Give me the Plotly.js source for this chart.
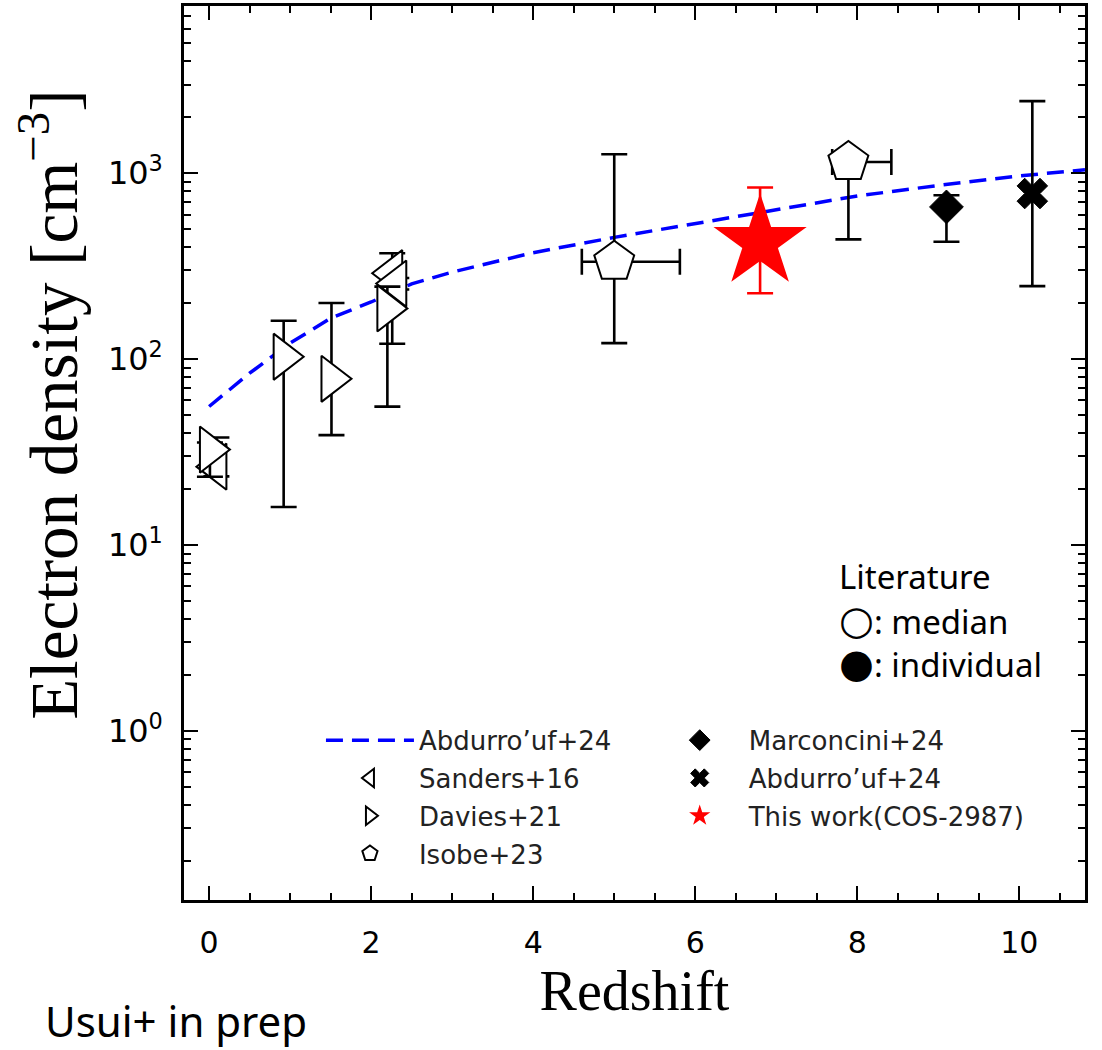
<!DOCTYPE html>
<html><head><meta charset="utf-8">
<script src="https://cdn.plot.ly/plotly-3.0.1.min.js"></script>
<style>body{margin:0;background:#fff}</style>
</head><body>
<div id="chart" style="width:1102px;height:1050px"></div>
<script>
// Abdurro'uf+24 relation
const modelZ  = [0, 0.5, 1, 1.5, 2, 2.5, 3, 4, 5, 6, 7, 8, 9, 10, 10.81];
const modelNe = [55.6, 84, 122, 166, 203, 254, 294, 374, 452, 537, 640, 755, 860, 968, 1044];

// Sanders+16 (median)
const sandersZ = [0.09, 2.26, 2.31];
const sandersNe = [26.4, 290, 255];
const sandersErrP = [11.5, 81, 18];
const sandersErrM = [3, 169, 18];

// Davies+21 (median)
const daviesZ = [0.01, 0.92, 1.51, 2.20];
const daviesNe = [32.6, 103, 78.4, 187.5];
const daviesErrP = [3, 58, 122, 58];
const daviesErrM = [9.3, 87, 39.4, 132];

// Isobe+23 (median)
const isobeZ = [5.0, 7.89];
const isobeNe = [334, 1150];
const isobeErrP = [931, 100];
const isobeErrM = [212, 709];
const isobeZErrP = [0.81, 0.53];
const isobeZErrM = [0.40, 0.20];

// Marconcini+24 (individual)
const marcZ = [9.10];
const marcNe = [659];
const marcErrP = [103];
const marcErrM = [231];

// Abdurro'uf+24 (individual)
const abdZ = [10.16];
const abdNe = [778];
const abdErrP = [1666];
const abdErrM = [531];

// This work (COS-2987)
const thisZ = [6.80];
const thisNe = [426];
const thisErrP = [412];
const thisErrM = [200];

const yTickVals = [1, 10, 100, 1000];
const yTickText = ['10<sup>0</sup>', '10<sup>1</sup>', '10<sup>2</sup>', '10<sup>3</sup>'];

const errStyle = (p, m, color) => ({type: 'data', symmetric: false, array: p, arrayminus: m,
  color: color || 'black', thickness: 2.6, width: 13});

const traces = [
  {x: modelZ, y: modelNe, mode: 'lines', name: 'Abdurro\u2019uf+24',
   line: {color: '#0000ff', width: 3.5, dash: '17px,9px'}, legend: 'legend', legendgroup: 'a'},
  {x: sandersZ, y: sandersNe, mode: 'markers', name: 'Sanders+16',
   marker: {symbol: 'triangle-left', size: 40, color: 'white', line: {color: 'black', width: 2}},
   error_y: errStyle(sandersErrP, sandersErrM), legend: 'legend', legendgroup: 'b'},
  {x: daviesZ, y: daviesNe, mode: 'markers', name: 'Davies+21',
   marker: {symbol: 'triangle-right', size: 40, color: 'white', line: {color: 'black', width: 2}},
   error_y: errStyle(daviesErrP, daviesErrM), legend: 'legend', legendgroup: 'c'},
  {x: isobeZ, y: isobeNe, mode: 'markers', name: 'Isobe+23',
   marker: {symbol: 'pentagon', size: 42, color: 'white', line: {color: 'black', width: 2}},
   error_y: errStyle(isobeErrP, isobeErrM),
   error_x: {type: 'data', symmetric: false, array: isobeZErrP, arrayminus: isobeZErrM,
             color: 'black', thickness: 2.6, width: 13},
   legend: 'legend', legendgroup: 'd'},
  {x: marcZ, y: marcNe, mode: 'markers', name: 'Marconcini+24',
   marker: {symbol: 'diamond', size: 26, color: 'black', line: {color: 'black', width: 1}},
   error_y: errStyle(marcErrP, marcErrM), legend: 'legend2', legendgroup: 'e'},
  {x: abdZ, y: abdNe, mode: 'markers', name: 'Abdurro\u2019uf+24',
   marker: {symbol: 'x', size: 27, color: 'black', line: {color: 'black', width: 1}},
   error_y: errStyle(abdErrP, abdErrM), legend: 'legend2', legendgroup: 'f'},
  {x: thisZ, y: thisNe, mode: 'markers', name: 'This work(COS-2987)',
   marker: {symbol: 'star', size: 70, color: '#ff0000', line: {width: 0}},
   error_y: errStyle(thisErrP, thisErrM, '#ff0000'), legend: 'legend2', legendgroup: 'g'}
];

const legendCommon = {
  yanchor: 'top', xanchor: 'left', bgcolor: 'rgba(0,0,0,0)', borderwidth: 0,
  font: {family: 'DejaVu Sans', size: 26, color: '#222'},
  traceorder: 'grouped', tracegroupgap: 1, itemwidth: 88
};

const layout = {
  width: 1102, height: 1050,
  margin: {l: 184, r: 17, t: 6, b: 150},
  paper_bgcolor: 'white', plot_bgcolor: 'white',
  showlegend: true,
  xaxis: {
    range: [-0.31, 10.81], showline: true, linewidth: 2.5, linecolor: 'black', mirror: 'ticks',
    ticks: 'inside', ticklen: 14, tickwidth: 2, tickcolor: 'black', tick0: 0, dtick: 2,
    minor: {dtick: 0.5, ticks: 'inside', ticklen: 7, tickwidth: 1.6, tickcolor: 'black', showgrid: false},
    showgrid: false, zeroline: false, ticklabelstandoff: 14,
    tickfont: {family: 'DejaVu Sans', size: 30, color: 'black'},
    title: {text: 'Redshift', font: {family: 'Liberation Serif', size: 56, color: 'black'}, standoff: 3}
  },
  yaxis: {
    type: 'log', range: [-0.91, 3.90], showline: true, linewidth: 2.5, linecolor: 'black', mirror: 'ticks',
    ticks: 'inside', ticklen: 14, tickwidth: 2, tickcolor: 'black',
    tickmode: 'array', tickvals: yTickVals, ticktext: yTickText,
    minor: {tickmode: 'linear', dtick: 'D1', ticks: 'inside', ticklen: 7, tickwidth: 1.6, tickcolor: 'black', showgrid: false},
    showgrid: false, zeroline: false, ticklabelstandoff: 12,
    tickfont: {family: 'DejaVu Sans', size: 32, color: 'black'}
  },
  legend: Object.assign({x: 0.152, y: 0.205}, legendCommon),
  legend2: Object.assign({x: 0.518, y: 0.205}, legendCommon),
  annotations: [
    {xref: 'paper', yref: 'paper', x: -0.150, y: 0.5537, xanchor: 'center', yanchor: 'middle', showarrow: false,
     textangle: -90, text: 'Electron density [cm<sup>\u22123</sup>]',
     font: {family: 'Liberation Serif', size: 67, color: 'black'}},
    {xref: 'paper', yref: 'paper', x: 0.7248, y: 0.3613, xanchor: 'left', yanchor: 'middle', showarrow: false,
     text: 'Literature', font: {family: 'Noto Sans', size: 33, color: 'black'}},
    {xref: 'paper', yref: 'paper', x: 0.7248, y: 0.3121, xanchor: 'left', yanchor: 'middle', showarrow: false,
     text: '<span style="font-family:DejaVu Sans;font-size:40px">\u25CB</span>: median', font: {family: 'Noto Sans', size: 33, color: 'black'}},
    {xref: 'paper', yref: 'paper', x: 0.7248, y: 0.2640, xanchor: 'left', yanchor: 'middle', showarrow: false,
     text: '<span style="font-family:DejaVu Sans;font-size:40px">\u25CF</span>: individual', font: {family: 'Noto Sans', size: 33, color: 'black'}},
    {xref: 'paper', yref: 'paper', x: -0.157, y: -0.1346, xanchor: 'left', yanchor: 'middle', showarrow: false,
     text: 'Usui+ in prep', font: {family: 'Noto Sans', size: 42, color: 'black'}}
  ]
};

Plotly.newPlot('chart', traces, layout, {displayModeBar: false, responsive: false});
</script>
</body></html>
